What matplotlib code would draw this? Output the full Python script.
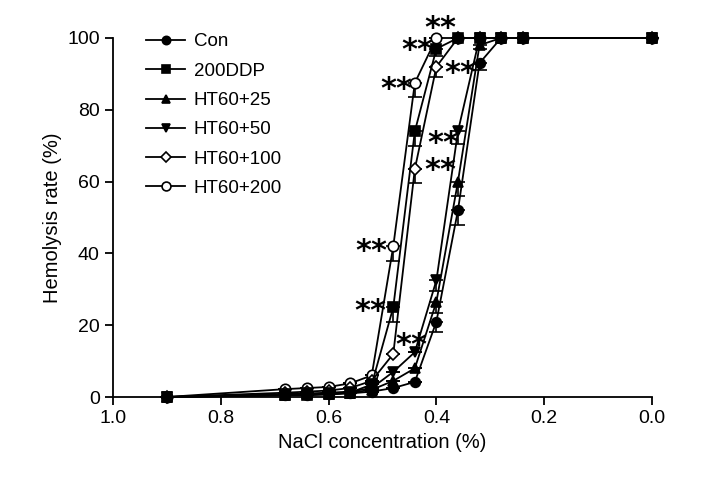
import numpy as np
import matplotlib
matplotlib.use("Agg")
from matplotlib import pyplot as plt

plt.rcParams['font.family'] = ['Liberation Sans', 'DejaVu Sans']

# NaCl concentrations (%)
nacl = [0.9, 0.68, 0.64, 0.60, 0.56, 0.52, 0.48, 0.44, 0.40, 0.36, 0.32, 0.28, 0.24, 0.0]

labels = ["Con", "200DDP", "HT60+25", "HT60+50", "HT60+100", "HT60+200"]
con = [0, 0.5, 0.5, 0.7, 1.0, 1.5, 2.5, 4.2, 21, 52, 93, 100, 100, 100]
ddp = [0, 0.5, 0.6, 0.8, 1.2, 3.5, 25, 74, 97, 100, 100, 100, 100, 100]
ht25 = [0, 0.6, 0.7, 0.9, 1.2, 2.0, 4.5, 8, 26.5, 60, 98, 100, 100, 100]
ht50 = [0, 0.8, 1.0, 1.2, 1.5, 2.5, 7, 12.5, 32.5, 74, 100, 100, 100, 100]
ht100 = [0, 1.2, 1.5, 1.8, 2.5, 4.5, 12, 63.5, 92, 100, 100, 100, 100, 100]
ht200 = [0, 2.2, 2.5, 2.8, 3.8, 6, 42, 87.5, 100, 100, 100, 100, 100, 100]

# lower error (SD)
con_err = [0, 0, 0, 0, 0, 0, 0, 0, 3, 4, 2, 0, 0, 0]
ddp_err = [0, 0, 0, 0, 0, 0, 4, 4, 2, 0, 0, 0, 0, 0]
ht25_err = [0, 0, 0, 0, 0, 0, 0, 0, 3, 4, 1, 0, 0, 0]
ht50_err = [0, 0, 0, 0, 0, 0, 0, 0, 3, 3.5, 0, 0, 0, 0]
ht100_err = [0, 0, 0, 0, 0, 0, 0, 4, 3, 0, 0, 0, 0, 0]
ht200_err = [0, 0, 0, 0, 0, 0, 4, 4, 0, 0, 0, 0, 0, 0]

# significance marks (x, y)
star_x = [0.393, 0.436, 0.475, 0.356, 0.388, 0.393, 0.520, 0.523, 0.447]
star_y = [103.6, 97.5, 86.6, 91.0, 71.6, 64.0, 41.5, 24.8, 15.3]

series = [con, ddp, ht25, ht50, ht100, ht200]
errs = [con_err, ddp_err, ht25_err, ht50_err, ht100_err, ht200_err]
markers = ["o", "s", "^", "v", "D", "o"]
fills = ["k", "k", "k", "k", "white", "white"]
msizes = [7, 7, 7.5, 7.5, 6, 7.5]
zords = [12, 11, 10, 9, 8, 7]

fig = plt.figure(figsize=(7.04, 4.87), dpi=100)
ax = fig.add_axes([113 / 704, 90 / 487, 539 / 704, 359 / 487])

for ys, er, mk, fc, ms, z, lab in zip(series, errs, markers, fills, msizes, zords, labels):
    er = np.array(er)
    ax.errorbar(nacl, ys, yerr=[er, np.zeros_like(er)], color="k", lw=1.3,
                marker=mk, mfc=fc, mec="k", mew=1.2, ms=ms, capsize=5,
                elinewidth=1.2, capthick=1.2, label=lab, clip_on=False, zorder=z)

for sx, sy in zip(star_x, star_y):
    ax.text(sx, sy - 1, "**", fontsize=22, ha="center", va="center",
            family="DejaVu Sans", fontweight="bold", zorder=20)

ax.set_xlim(1.0, 0.0)
ax.set_ylim(0, 100)
ax.set_xticks([1.0, 0.8, 0.6, 0.4, 0.2, 0.0])
ax.set_xticklabels(["1.0", "0.8", "0.6", "0.4", "0.2", "0.0"])
ax.set_yticks([0, 20, 40, 60, 80, 100])
ax.spines["top"].set_visible(False)
ax.spines["right"].set_visible(False)
ax.spines["left"].set_linewidth(1.3)
ax.spines["bottom"].set_linewidth(1.3)
ax.tick_params(labelsize=14, width=1.3, length=6, direction="out")
ax.set_xlabel("NaCl concentration (%)", fontsize=14.5)
ax.set_ylabel("Hemolysis rate (%)", fontsize=14.5)

handles, labs = ax.get_legend_handles_labels()
handles = [h[0] for h in handles]
leg = ax.legend(handles, labs, loc="upper left", bbox_to_anchor=(0.03, 1.06),
                frameon=False, fontsize=13.5, handlelength=2.1, handletextpad=0.45,
                labelspacing=0.65, markerscale=0.85)
leg.set_zorder(30)

fig.savefig("out.png", dpi=100)
